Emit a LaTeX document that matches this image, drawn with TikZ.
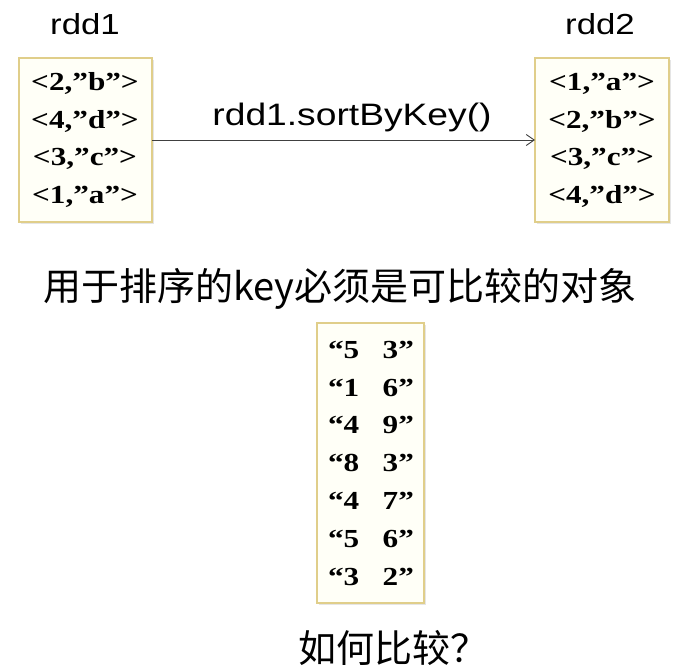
\documentclass[tikz,border=0pt]{standalone}
\usepackage{fontspec}
\setmainfont{Liberation Serif}
\newfontfamily\arialf{Liberation Sans}
\newfontfamily\cjk{Noto Sans CJK SC}
\usetikzlibrary{arrows.meta,shadows}
\definecolor{boxline}{RGB}{224,206,138}
\definecolor{boxfill}{RGB}{255,255,247}
\newcommand{\widetxt}[1]{\scalebox{1.2}[1]{#1}}
\tikzset{
  x=1pt, y=-1pt,
  databox/.style={draw=boxline, fill=boxfill, line width=1.2pt, inner sep=0pt,
    drop shadow={opacity=0.2, shadow xshift=2pt, shadow yshift=-2pt}},
  row/.style={anchor=base, inner sep=0pt, font=\bfseries\fontsize{26}{26}\selectfont},
  title/.style={anchor=base, inner sep=0pt, font=\arialf\fontsize{29}{29}\selectfont},
  cjktext/.style={anchor=center, inner sep=0pt, font=\cjk\fontsize{38}{38}\selectfont},
  link/.style={draw=black!75, line width=0.9pt, -{Straight Barb[length=8pt,width=11pt,line width=0.9pt]}}
}
\begin{document}
\begin{tikzpicture}
\useasboundingbox (0,0) rectangle (684,668);
\fill[white] (0,0) rectangle (684,668);
% boxes
\path[databox] (19,58) rectangle (152,222);
\path[databox] (535,58) rectangle (669,222);
\path[databox] (317,323) rectangle (424,603);
\coordinate (b1) at (152,140);
\coordinate (b2) at (535,140);
% titles
\node[title] (t1) at (85,35) {\widetxt{rdd1}};
\node[title] (t2) at (600,35) {\widetxt{rdd2}};
% rdd1 rows
\node[row] (a1) at (85,91) {\widetxt{<2,”b”>}};
\node[row] (a2) at (85,129) {\widetxt{<4,”d”>}};
\node[row] (a3) at (85,166) {\widetxt{<3,”c”>}};
\node[row] (a4) at (85,204) {\widetxt{<1,”a”>}};
% rdd2 rows
\node[row] (c1) at (602,91) {\widetxt{<1,”a”>}};
\node[row] (c2) at (602,129) {\widetxt{<2,”b”>}};
\node[row] (c3) at (602,166) {\widetxt{<3,”c”>}};
\node[row] (c4) at (602,204) {\widetxt{<4,”d”>}};
% arrow
\draw[link] (b1) -- (b2);
\node[title, font=\arialf\fontsize{31}{31}\selectfont] (op) at (352,126) {\widetxt{rdd1.sortByKey()}};
% chinese line
\node[cjktext] (note) at (340,289) {用于排序的key必须是可比较的对象};
% third box rows
\node[row] (d1) at (371,358) {\widetxt{“5\hspace{0.75em}3”}};
\node[row] (d2) at (371,396) {\widetxt{“1\hspace{0.75em}6”}};
\node[row] (d3) at (371,433) {\widetxt{“4\hspace{0.75em}9”}};
\node[row] (d4) at (371,471) {\widetxt{“8\hspace{0.75em}3”}};
\node[row] (d5) at (371,509) {\widetxt{“4\hspace{0.75em}7”}};
\node[row] (d6) at (371,547) {\widetxt{“5\hspace{0.75em}6”}};
\node[row] (d7) at (371,585) {\widetxt{“3\hspace{0.75em}2”}};
% question
\node[cjktext] (q) at (393,648) {如何比较？};
\end{tikzpicture}
\end{document}
